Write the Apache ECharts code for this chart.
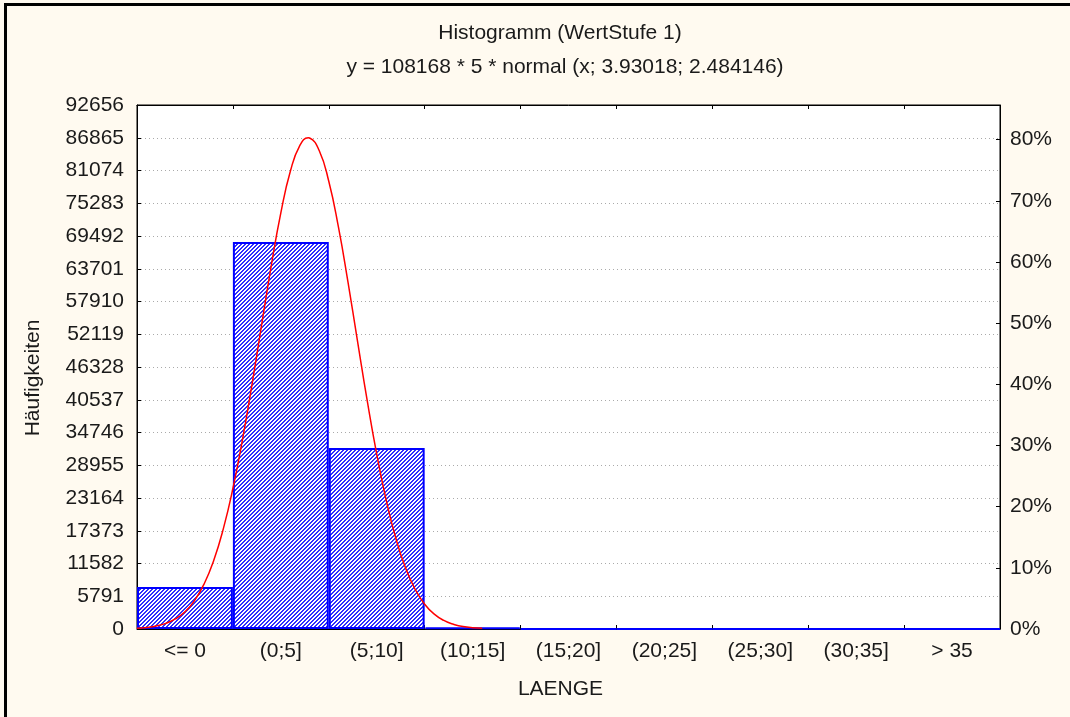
<!DOCTYPE html>
<html><head><meta charset="utf-8">
<script src="https://cdn.jsdelivr.net/npm/echarts@6/dist/echarts.min.js"></script>
<style>html,body{margin:0;padding:0;background:#fffaf0}#c{width:1070px;height:717px}</style>
</head><body><div id="c"></div>
<script>
const titleText = 'Histogramm (WertStufe 1)';
const subtitleText = 'y = 108168 * 5 * normal (x; 3.93018; 2.484146)';
const categories = ['<= 0', '(0;5]', '(5;10]', '(10;15]', '(15;20]', '(20;25]', '(25;30]', '(30;35]', '> 35'];
const counts = [7430, 68430, 32010, 270, 20, 5, 2, 1, 0];
const totalN = 108168;
const leftTicks = {min: 0, max: 92656, interval: 5791};
// fitted normal curve (x in LAENGE units, y in counts)
const curveX = [-5, -4.5, -4, -3.5, -3, -2.5, -2, -1.5, -1, -0.5, 0, 0.5, 1, 1.5, 2, 2.5, 3, 3.5, 3.93, 4, 4.5, 5, 5.5, 6, 6.5, 7, 7.5, 8, 8.5, 9, 9.5, 10, 10.5, 11, 11.5, 12, 13];
const curveY = [136, 274, 532, 991, 1774, 3047, 5029, 7964, 12113, 17709, 24845, 33477, 43314, 53823, 64224, 73586, 80975, 85563, 86856, 86822, 84601, 79164, 71135, 61385, 50866, 40476, 30931, 22696, 15994, 10823, 7033, 4388, 2630, 1514, 836, 444, 111];

const FONT = 'Liberation Sans, Arial, sans-serif';
const TXT = '#1a1a1a';

// crisp "/" hatch pattern, 4px period
const pc = document.createElement('canvas');
pc.width = 4; pc.height = 4;
const g = pc.getContext('2d');
g.fillStyle = '#ffffff'; g.fillRect(0, 0, 4, 4);
g.fillStyle = '#2e2eff';
for (let px = 0; px < 4; px++) for (let py = 0; py < 4; py++) {
  if ((px + py) % 4 < 2) g.fillRect(px, py, 1, 1);
}

const chart = echarts.init(document.getElementById('c'));
const rightMax = leftTicks.max / totalN * 100;

chart.setOption({
  backgroundColor: '#fffaf0',
  animation: false,
  textStyle: {fontFamily: FONT},
  graphic: [
    {type: 'rect', shape: {x: 4, y: 3, width: 3, height: 714}, style: {fill: '#000'}},
    {type: 'rect', shape: {x: 4, y: 3, width: 1066, height: 3}, style: {fill: '#000'}},
    {type: 'text', x: 560, y: 33, style: {text: titleText, fontSize: 21, fontFamily: FONT, fill: TXT, align: 'center', verticalAlign: 'middle'}},
    {type: 'text', x: 565, y: 67, style: {text: subtitleText, fontSize: 21, fontFamily: FONT, fill: TXT, align: 'center', verticalAlign: 'middle'}}
  ],
  grid: {left: 137, right: 70, top: 105, bottom: 88, show: true, backgroundColor: '#ffffff', borderColor: '#000', borderWidth: 1},
  xAxis: [
    {type: 'category', data: categories, position: 'bottom', boundaryGap: true,
     axisLine: {show: true, onZero: false, lineStyle: {color: '#000', width: 1}},
     axisTick: {show: true, inside: true, length: 4, lineStyle: {color: '#000'}},
     axisLabel: {color: TXT, fontSize: 21, fontFamily: FONT, margin: 12},
     name: 'LAENGE', nameLocation: 'middle', nameGap: 50,
     nameTextStyle: {color: TXT, fontSize: 21, fontFamily: FONT, padding: [0, 16, 0, 0]},
     splitLine: {show: false}},
    {type: 'category', data: categories, position: 'top', boundaryGap: true,
     axisLine: {show: true, onZero: false, lineStyle: {color: '#000'}},
     axisTick: {show: true, inside: true, length: 4, lineStyle: {color: '#000'}},
     axisLabel: {show: false}, splitLine: {show: false}},
    {type: 'value', min: -5, max: 40, show: false, axisLine: {onZero: false}}
  ],
  yAxis: [
    {type: 'value', min: leftTicks.min, max: leftTicks.max, interval: leftTicks.interval, position: 'left',
     axisLine: {show: true, onZero: false, lineStyle: {color: '#000'}},
     axisTick: {show: true, inside: true, length: 4, lineStyle: {color: '#000'}},
     axisLabel: {color: TXT, fontSize: 21, fontFamily: FONT, margin: 13, formatter: v => String(v)},
     splitLine: {show: true, lineStyle: {color: '#aaaaaa', type: [1, 3], width: 1}},
     name: 'Häufigkeiten', nameLocation: 'middle', nameGap: 93, nameRotate: 90,
     nameTextStyle: {color: TXT, fontSize: 21, fontFamily: FONT, padding: [0, 22, 0, 0]}},
    {type: 'value', min: 0, max: rightMax, interval: 10, position: 'right',
     axisLine: {show: true, onZero: false, lineStyle: {color: '#000'}},
     axisTick: {show: true, inside: true, length: 4, lineStyle: {color: '#000'}},
     axisLabel: {color: TXT, fontSize: 21, fontFamily: FONT, margin: 10, showMaxLabel: false,
       formatter: v => (Math.abs(v / 10 - Math.round(v / 10)) < 1e-6 ? Math.round(v) + '%' : '')},
     splitLine: {show: false}}
  ],
  series: [
    {type: 'bar', xAxisIndex: 0, yAxisIndex: 0, data: counts, barCategoryGap: '0%', barGap: '0%',
     itemStyle: {color: {image: pc, repeat: 'repeat'}, borderColor: '#0000ff', borderWidth: 2}, z: 2},
    {type: 'line', xAxisIndex: 2, yAxisIndex: 0, data: curveX.map((x, i) => [x, curveY[i]]),
     smooth: true, showSymbol: false, clip: true, lineStyle: {color: '#ff0000', width: 1.5}, z: 3}
  ]
});
</script></body></html>
